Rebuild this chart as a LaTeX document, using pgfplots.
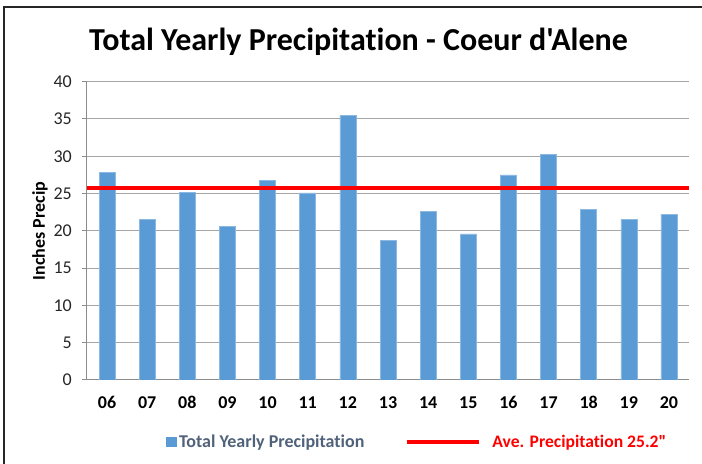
\documentclass[border=0pt]{standalone}
\usepackage{pgfplots}
\pgfplotsset{compat=1.18}
\usepackage{fontspec}
\setmainfont{Carlito}[Ligatures={NoCommon,TeXOff}]
\definecolor{barblue}{HTML}{5B9BD5}
\definecolor{gridgray}{HTML}{A6A6A6}
\definecolor{axgray}{HTML}{8C8C8C}
\definecolor{legtext}{HTML}{50627A}
\begin{document}
\begin{tikzpicture}
\path[use as bounding box] (0bp,0bp) rectangle (702bp,464bp);
\draw[line width=1.5bp, black!85] (4bp,-1bp) -- (4bp,457bp) -- (703bp,457bp);
\node[font=\bfseries\fontsize{32bp}{36bp}\selectfont, anchor=base west, inner sep=0pt] at (89bp,413bp) {Total Yearly Precipitation - Coeur d'Alene};
\begin{axis}[
  at={(87bp,84bp)}, anchor=south west,
  scale only axis, width=602bp, height=298.3bp,
  ymin=0, ymax=40, ytick={0,5,...,40},
  xmin=-0.5, xmax=14.5,
  xtick={0,...,14},
  xticklabels={06,07,08,09,10,11,12,13,14,15,16,17,18,19,20},
  minor xtick={-0.5,0.5,...,14.5},
  axis x line*=bottom, axis y line*=left,
  axis line style={axgray, line width=1bp},
  tick align=outside,
  major tick length=5bp, minor tick length=5bp,
  xtick style={draw=none},
  minor x tick style={axgray, line width=1bp},
  ytick style={axgray, line width=1bp},
  ymajorgrids, major grid style={gridgray, line width=1bp},
  /pgf/number format/assume math mode=true,
  yticklabel style={font=\fontsize{18bp}{21bp}\selectfont, text=black!85, anchor=east, inner sep=0pt, xshift=-10bp},
  xticklabel style={font=\bfseries\fontsize{18bp}{21bp}\selectfont, text=black, anchor=north, text height=11.5bp, text depth=0bp, inner sep=0pt, yshift=-12bp},
  ylabel={Inches Precip},
  ylabel style={font=\bfseries\fontsize{18bp}{21bp}\selectfont, at={(axis description cs:-0.078,0.5)}, anchor=center, rotate=0},
  legend columns=2,
  legend style={at={(axis description cs:0.1316,-0.2078)}, anchor=west, draw=none, fill=none, inner sep=0pt,
    /tikz/every even column/.append style={column sep=39bp}},
  legend cell align=left,
]
\addplot[ybar, bar width=16bp, bar shift=0pt, fill=barblue, draw=barblue!70!white, line width=0.6bp,
  legend image code/.code={\fill[barblue] (0bp,-4.5bp) rectangle (10bp,4.5bp);}]
  coordinates {(0,27.8) (1,21.5) (2,25.2) (3,20.6) (4,26.8) (5,25.1) (6,35.5) (7,18.7)
               (8,22.6) (9,19.6) (10,27.5) (11,30.3) (12,22.9) (13,21.5) (14,22.2)};
\addlegendentry{\fontsize{18bp}{21bp}\selectfont\bfseries\textcolor{legtext}{Total Yearly Precipitation}}
\addplot[red, line width=4bp, no marks,
  legend image code/.code={\draw[red, line width=4bp] (0bp,0bp) -- (72bp,0bp);}]
  coordinates {(-0.5,25.8) (14.5,25.8)};
\addlegendentry{\fontsize{17.6bp}{20bp}\selectfont\bfseries\hspace{9bp}\textcolor{red}{Ave. Precipitation 25.2"}}
\end{axis}
\end{tikzpicture}
\end{document}
